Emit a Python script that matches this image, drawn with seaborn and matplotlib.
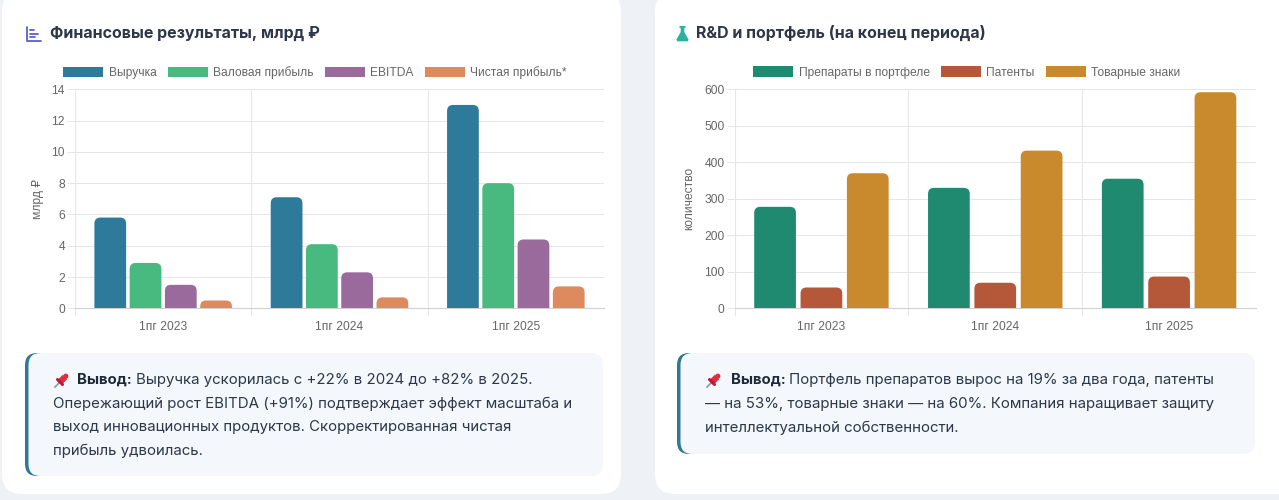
import numpy as np
import pandas as pd
import matplotlib
matplotlib.use("Agg")
import matplotlib.pyplot as plt
import seaborn as sns
from matplotlib.patches import FancyBboxPatch, PathPatch, Rectangle, Polygon, Circle
from matplotlib.path import Path

# ---------------- data ----------------
periods = ["1пг 2023", "1пг 2024", "1пг 2025"]

fin_series = ["Выручка", "Валовая прибыль", "EBITDA", "Чистая прибыль*"]
revenue = [5.8, 7.1, 13.0]
gross_profit = [2.9, 4.1, 8.0]
ebitda = [1.5, 2.3, 4.4]
net_profit = [0.5, 0.7, 1.4]
fin_colors = ["#2e7a9b", "#48b97f", "#9a6a9d", "#dc8a5e"]
fin_ticks = [0, 2, 4, 6, 8, 10, 12, 14]

rd_series = ["Препараты в портфеле", "Патенты", "Товарные знаки"]
drugs = [278, 330, 355]
patents = [57, 70, 87]
trademarks = [370, 432, 592]
rd_colors = ["#1f8a6f", "#b5583a", "#c98a2d"]
rd_ticks = [0, 100, 200, 300, 400, 500, 600]

title_left = "Финансовые результаты, млрд ₽"
title_right = "R&D и портфель (на конец периода)"
ylabel_left = "млрд ₽"
ylabel_right = "количество"

note_bold = "Вывод:"
note_left = ["Выручка ускорилась с +22% в 2024 до +82% в 2025.",
             "Опережающий рост EBITDA (+91%) подтверждает эффект масштаба и",
             "выход инновационных продуктов. Скорректированная чистая",
             "прибыль удвоилась."]
note_right = ["Портфель препаратов вырос на 19% за два года, патенты",
              "— на 53%, товарные знаки — на 60%. Компания наращивает защиту",
              "интеллектуальной собственности."]

# ---------------- figure ----------------
W, H = 1279, 500
plt.rcParams["font.family"] = ["Liberation Sans", "DejaVu Sans"]
fig = plt.figure(figsize=(W / 100, H / 100), dpi=100, facecolor="#eef2f7")

bg = fig.add_axes([0, 0, 1, 1])
bg.set_xlim(0, W)
bg.set_ylim(H, 0)
bg.axis("off")
bg.set_zorder(0)


def fbox(x0, y0, x1, y1, r, color, clip_x=None):
    p = FancyBboxPatch((x0, y0), x1 - x0, y1 - y0,
                       boxstyle=f"round,pad=0,rounding_size={r}",
                       fc=color, ec="none")
    bg.add_patch(p)
    if clip_x is not None:
        cr = Rectangle((x0 - 2, y0 - 2), clip_x - x0 + 2, y1 - y0 + 4,
                       transform=bg.transData)
        p.set_clip_path(cr)
    return p


# cards
fbox(2, -8, 621, 494, 20, "white")
fbox(655, -8, 1310, 494, 20, "white")
# callouts (left border + body)
fbox(25, 353, 603, 476, 12, "#2f7896", clip_x=40)
fbox(28.5, 353, 603, 476, 12, "#f4f8fc")
fbox(677, 353, 1255, 454, 12, "#2f7896", clip_x=692)
fbox(680.5, 353, 1255, 454, 12, "#f4f8fc")

TFONT = ["Inter", "DejaVu Sans"]

# title icons
ic = "#5b5fd8"
bg.plot([26.5, 26.5, 41], [26.5, 40.5, 40.5], color=ic, lw=1.3, solid_capstyle="round")
bg.plot([29.5, 33.5], [30, 30], color=ic, lw=1.3, solid_capstyle="round")
bg.plot([29.5, 37.5], [33.5, 33.5], color=ic, lw=1.3, solid_capstyle="round")
bg.plot([29.5, 35], [37, 37], color=ic, lw=1.3, solid_capstyle="round")

flask = [(679.5, 26), (685.5, 26), (685.5, 27.8), (684.3, 27.8), (684.3, 32),
         (688.6, 39.6), (687.8, 41.3), (677.2, 41.3), (676.4, 39.6),
         (680.7, 32), (680.7, 27.8), (679.5, 27.8)]
bg.add_patch(Polygon(flask, closed=True, fc="#27b3a0", ec="none"))

bg.text(50, 33, title_left, fontsize=11.5, weight="bold", color="#2d3748",
        va="center", ha="left", family=TFONT)
bg.text(696, 33, title_right, fontsize=11.5, weight="bold", color="#2d3748",
        va="center", ha="left", family=TFONT)


def pin(x, y):
    bg.plot([x - 7, x - 1], [y + 7, y + 1], color="#8899a6", lw=1.2)
    bg.plot([x - 2, x + 3], [y + 2, y - 3], color="#dd2e44", lw=4.5, solid_capstyle="butt")
    bg.plot([x - 4.5, x + 0.5], [y - 0.5, y + 4.5], color="#be1931", lw=2.2, solid_capstyle="round")
    bg.add_patch(Circle((x + 3.8, y - 3.8), 2.6, fc="#dd2e44", ec="none"))


renderer = fig.canvas.get_renderer()
NFS = 10.8
TXT = "#2d3748"


def note(x_pin, x_bold, x_text, ys, lines):
    pin(x_pin, ys[0])
    t = bg.text(x_bold, ys[0], note_bold, fontsize=NFS, weight="bold",
                color="#1f2937", va="center", ha="left", family=TFONT)
    bb = t.get_window_extent(renderer)
    xe = bg.transData.inverted().transform((bb.x1, 0))[0]
    bg.text(xe + 4, ys[0], lines[0], fontsize=NFS, color=TXT, va="center",
            ha="left", family=TFONT)
    for y, line in zip(ys[1:], lines[1:]):
        bg.text(x_text, y, line, fontsize=NFS, color=TXT, va="center",
                ha="left", family=TFONT)


note(62, 77.5, 53, [380, 404, 427.5, 451], note_left)
note(714, 730.5, 705, [380, 404, 427.5], note_right)

# ---------------- charts ----------------
CFS = 8.64  # 12 px
CTXT = "#666666"
GRID = "#e6e6e6"


def px_axes(x0, y0, x1, y1):
    a = fig.add_axes([x0 / W, 1 - y1 / H, (x1 - x0) / W, (y1 - y0) / H])
    a.set_zorder(1)
    a.set_facecolor("none")
    return a


def round_bars(ax, r=6):
    bbox = ax.get_window_extent(renderer)
    xl, yl = ax.get_xlim(), ax.get_ylim()
    pxx = bbox.width / (xl[1] - xl[0])
    pxy = bbox.height / (yl[1] - yl[0])
    for p in list(ax.patches):
        if not isinstance(p, Rectangle):
            continue
        x, y, w, h = p.get_x(), p.get_y(), p.get_width(), p.get_height()
        c = p.get_facecolor()
        p.remove()
        rx = min(r, w * pxx / 2) / pxx
        ry = min(r, h * pxy) / pxy
        verts = [(x, y), (x, y + h - ry), (x, y + h), (x + rx, y + h),
                 (x + w - rx, y + h), (x + w, y + h), (x + w, y + h - ry),
                 (x + w, y), (x, y)]
        codes = [Path.MOVETO, Path.LINETO, Path.CURVE3, Path.CURVE3,
                 Path.LINETO, Path.CURVE3, Path.CURVE3, Path.LINETO, Path.CLOSEPOLY]
        ax.add_patch(PathPatch(Path(verts, codes), fc=c, ec="none", zorder=2))


def style(ax, ticks, ylabel, lab_x):
    ax.set_axisbelow(True)
    ax.set_ylim(ticks[0], ticks[-1])
    ax.set_xlim(-0.5, 2.5)
    ax.set_yticks(ticks)
    ax.set_yticklabels([str(t) for t in ticks])
    ax.set_xticks([-0.5, 0.5, 1.5], minor=True)
    ax.yaxis.grid(True, color=GRID, lw=0.75)
    ax.xaxis.grid(True, which="minor", color=GRID, lw=0.75)
    ax.xaxis.grid(False, which="major")
    ax.tick_params(axis="y", length=5.76, width=0.72, color=GRID, pad=1.5,
                   labelsize=CFS, labelcolor=CTXT)
    ax.tick_params(axis="x", which="minor", length=5.76, width=0.72, color=GRID)
    ax.tick_params(axis="x", which="major", length=0, pad=9.2, labelsize=CFS,
                   labelcolor=CTXT)
    for s in ["top", "right"]:
        ax.spines[s].set_visible(False)
    ax.spines["left"].set_color(GRID)
    ax.spines["left"].set_linewidth(0.75)
    ax.spines["bottom"].set_color("#d0d0d0")
    ax.spines["bottom"].set_linewidth(0.75)
    ax.set_xlabel("")
    ax.set_ylabel(ylabel, fontsize=CFS, color=CTXT)
    ax.yaxis.set_label_coords(lab_x, 0.5)


# financial chart
df_fin = pd.DataFrame({
    "period": periods * 4,
    "metric": [s for s in fin_series for _ in periods],
    "value": revenue + gross_profit + ebitda + net_profit,
})
ax1 = px_axes(75, 89.3, 604, 308.3)
sns.barplot(data=df_fin, x="period", y="value", hue="metric", order=periods,
            hue_order=fin_series, palette=fin_colors, width=0.8, gap=0.1,
            saturation=1, legend=False, ax=ax1, errorbar=None)
style(ax1, fin_ticks, ylabel_left, -0.058)
round_bars(ax1)

# R&D chart
df_rd = pd.DataFrame({
    "period": periods * 3,
    "metric": [s for s in rd_series for _ in periods],
    "value": drugs + patents + trademarks,
})
ax2 = px_axes(734.5, 89.3, 1256, 308.3)
sns.barplot(data=df_rd, x="period", y="value", hue="metric", order=periods,
            hue_order=rd_series, palette=rd_colors, width=0.8, gap=0.1,
            saturation=1, legend=False, ax=ax2, errorbar=None)
style(ax2, rd_ticks, ylabel_right, -0.0757)
round_bars(ax2)


# legends
def legend(labels, colors, cx):
    handles = [Rectangle((0, 0), 1, 1, fc=c, ec="none") for c in colors]
    fig.legend(handles, labels, loc="center", bbox_to_anchor=(cx / W, 1 - 72.7 / H),
               ncol=len(labels), frameon=False, fontsize=CFS, handlelength=3.33,
               handleheight=1.0, handletextpad=0.46, columnspacing=0.92,
               borderpad=0, borderaxespad=0, labelcolor=CTXT)


legend(fin_series, fin_colors, 315)
legend(rd_series, rd_colors, 967)

fig.savefig("out.png", dpi=100, facecolor=fig.get_facecolor())
